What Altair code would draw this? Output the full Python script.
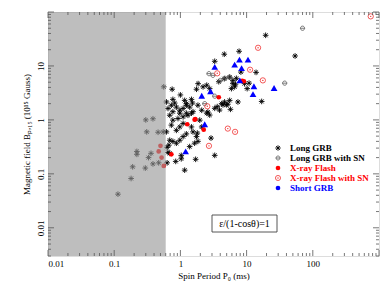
import altair as alt
import pandas as pd

W, H = 331, 244
FONT = "Liberation Serif"

# ---- data (P0 in ms, B in 1e15 G) ----
lgrb_p = [0.114, 0.18, 0.19, 0.295, 0.22, 0.22, 0.33, 0.36, 0.385, 0.47, 0.30, 0.385, 0.31, 0.46, 0.55, 0.615, 0.56, 0.615,
          0.63, 0.63, 0.67, 0.65, 0.85, 1.16, 1.03, 1.7,
          0.69, 0.77, 0.87, 0.98, 1.10, 1.23, 1.55, 1.75, 1.84, 1.64, 1.38,
          0.87, 0.98, 1.10, 0.73, 0.77, 0.92, 1.10, 1.30, 0.69, 1.47, 1.8, 1.96, 2.1, 2.9, 3.3, 0.69, 1.03,
          0.65, 0.73, 0.77, 0.87, 0.98, 1.10, 1.23, 1.38, 1.55, 1.84, 2.1, 2.5, 0.98, 1.23, 1.47, 2.6, 2.77,
          0.75, 0.77, 0.82, 1.0, 1.16, 1.23, 1.47, 1.52, 1.75, 1.85, 2.2, 2.5, 2.77,
          3.6, 4.2, 4.65, 4.95, 5.55, 5.7, 7.4, 3.3, 3.9, 4.4, 5.2,
          3.8, 4.6, 5.55, 6.2, 6.6, 5.9, 10.9, 10.2, 9.3, 6.8, 6.2, 7.0,
          3.3, 4.6, 7.7, 8.2, 13.9, 16.9, 19.4, 54]
lgrb_b = [0.042, 0.082, 0.135, 0.128, 0.26, 0.23, 0.20, 0.24, 0.153, 0.16, 1.0, 1.05, 0.60, 0.59, 0.60, 0.60, 4.1, 2.15,
          0.16, 0.31, 0.34, 0.25, 0.17, 0.117, 0.22, 0.186,
          0.42, 0.40, 0.37, 0.42, 0.49, 0.55, 0.60, 0.49, 0.40, 0.37, 0.32,
          0.64, 0.74, 0.86, 0.80, 0.99, 1.06, 1.14, 1.22, 1.22, 0.74, 0.57, 0.99, 0.74, 0.46, 0.22, 0.24, 0.19,
          1.63, 1.87, 1.42, 1.73, 1.51, 1.63, 1.87, 1.73, 1.42, 1.87, 1.51, 1.33, 1.33, 1.33, 1.33, 1.40, 1.23,
          3.7, 2.4, 2.05, 2.9, 2.3, 2.0, 2.4, 2.05, 3.7, 4.7, 4.1, 4.4, 3.8,
          1.76, 2.0, 2.15, 1.9, 2.3, 1.57, 2.15, 1.64, 1.52, 1.9, 1.95,
          5.1, 5.8, 6.2, 4.7, 4.1, 3.8, 4.8, 3.8, 4.7, 4.6, 5.4, 5.9,
          12.2, 16.5, 18.7, 7.7, 7.6, 2.2, 37, 15.3]

lgrbsn_p = [70, 37.6, 2.7, 3.1, 4.7, 5.5, 3.3, 2.33, 4.0]
lgrbsn_b = [50, 4.8, 7.2, 6.7, 5.9, 6.2, 2.75, 2.0, 5.4]

xrf_p = [0.50, 0.47, 0.52, 0.56, 0.73, 1.27, 1.64, 1.68, 2.25, 3.8, 8.6, 9.1]
xrf_b = [0.33, 0.26, 0.20, 0.14, 0.23, 0.83, 1.01, 1.03, 0.66, 2.63, 5.3, 5.2]

xrfsn_p = [750, 14.9, 17.6, 11.3, 3.6, 2.55, 5.2, 6.7, 2.7]
xrfsn_b = [83, 21.7, 5.4, 8.5, 7.3, 1.79, 0.69, 0.60, 0.33]

sgrb_p = [26, 12.9, 12.5, 7.9, 8.4, 6.6, 7.8, 10.5, 3.3, 2.85, 2.1, 2.33, 1.2]
sgrb_b = [3.9, 4.2, 3.0, 5.4, 9.1, 10.6, 13.1, 13.1, 9.6, 3.4, 2.8, 0.83, 0.26]

shade_limit = 0.6
x_labels = [0.01, 0.1, 1, 10, 100]
y_labels = [0.01, 0.1, 1, 10]
legend_labels = ["Long GRB", "Long GRB with SN", "X-ray Flash", "X-ray Flash with SN", "Short GRB"]
legend_colors = ["#000000", "#000000", "#ff0000", "#ff0000", "#0000ff"]

# ---- scales / encodings ----
xs = alt.Scale(type="log", domain=[0.01, 1000], nice=False)
ys = alt.Scale(type="log", domain=[0.003, 100], nice=False)
xaxis = alt.Axis(values=x_labels, format="~g", ticks=False, domain=False, grid=False,
                 labelFont=FONT, labelFontSize=9, labelColor="#000", labelPadding=3,
                 title="Spin Period P\u2080 (ms)", titleFont=FONT, titleFontSize=9,
                 titleFontWeight="normal", titleColor="#000", titlePadding=3)
yaxis = alt.Axis(values=y_labels, format="~g", ticks=False, domain=False, grid=False,
                 labelFont=FONT, labelFontSize=9, labelColor="#000", labelAngle=270,
                 labelAlign="center", labelBaseline="bottom", labelPadding=3,
                 title="Magnetic field B\u209a,\u2081\u2085 (10\u00b9\u2075 Gauss)", titleFont=FONT,
                 titleFontSize=9, titleFontWeight="normal", titleColor="#000", titlePadding=5)
X = alt.X("P:Q", scale=xs, axis=xaxis)
Y = alt.Y("B:Q", scale=ys, axis=yaxis)

def df(p, b):
    return pd.DataFrame({"P": p, "B": b})

AST = "M0,-1L0,1M-1,0L1,0M-0.7,-0.7L0.7,0.7M-0.7,0.7L0.7,-0.7"
OMINUS = "M1,0A1,1,0,1,1,-1,0A1,1,0,1,1,1,0M-1,0L1,0"

lgrb = alt.Chart(df(lgrb_p, lgrb_b)).mark_point(shape=AST, size=32, color="#000", strokeWidth=0.9, filled=False, opacity=1).encode(x=X, y=Y)
lgrbsn = alt.Chart(df(lgrbsn_p, lgrbsn_b)).mark_point(shape=OMINUS, size=18, color="#555", strokeWidth=0.8, filled=False, opacity=1).encode(x=X, y=Y)
xrf = alt.Chart(df(xrf_p, xrf_b)).mark_point(shape="circle", size=22, color="#ff0000", filled=True, opacity=1).encode(x=X, y=Y)
xrfsn_c = alt.Chart(df(xrfsn_p, xrfsn_b)).mark_point(shape="circle", size=28, color="#f03030", strokeWidth=0.8, filled=False, opacity=1).encode(x=X, y=Y)
xrfsn_d = alt.Chart(df(xrfsn_p, xrfsn_b)).mark_point(shape="circle", size=2, color="#f03030", filled=True, opacity=1).encode(x=X, y=Y)
sgrb = alt.Chart(df(sgrb_p, sgrb_b)).mark_point(shape="triangle-up", size=45, color="#0000ff", filled=True, opacity=1).encode(x=X, y=Y)

shade = alt.Chart(pd.DataFrame({"P": [0.01], "P2": [shade_limit]})).mark_rect(color="#989898", opacity=0.63).encode(
    x=X, x2="P2:Q", y=alt.value(0), y2=alt.value(H))

# ---- inward ticks on all four sides ----
xmaj = [10.0 ** e for e in range(-2, 4)]
xmin = [k * 10.0 ** e for e in range(-2, 3) for k in range(2, 10)]
ymaj = [10.0 ** e for e in range(-2, 3)]
ymin = [k * 10.0 ** e for e in range(-3, 2) for k in range(2, 10) if k * 10.0 ** e >= 0.003]
TC = "#555"
ticks = []
for vals, ln in [(xmaj, 6), (xmin, 3)]:
    d = pd.DataFrame({"P": vals})
    ticks.append(alt.Chart(d).mark_rule(color=TC, strokeWidth=0.8).encode(x=X, y=alt.value(H), y2=alt.value(H - ln)))
    ticks.append(alt.Chart(d).mark_rule(color=TC, strokeWidth=0.8).encode(x=X, y=alt.value(0), y2=alt.value(ln)))
for vals, ln in [(ymaj, 6), (ymin, 3)]:
    d = pd.DataFrame({"B": vals})
    ticks.append(alt.Chart(d).mark_rule(color=TC, strokeWidth=0.8).encode(y=Y, x=alt.value(0), x2=alt.value(ln)))
    ticks.append(alt.Chart(d).mark_rule(color=TC, strokeWidth=0.8).encode(y=Y, x=alt.value(W), x2=alt.value(W - ln)))

# ---- legend ----
LX, LT, LY0, LDY = 230, 242, 136, 10
leg = []
one = pd.DataFrame({"a": [0]})
sym_specs = [
    dict(shape=AST, size=30, color="#000", filled=False, strokeWidth=0.9),
    dict(shape=OMINUS, size=16, color="#555", filled=False, strokeWidth=0.8),
    dict(shape="circle", size=22, color="#ff0000", filled=True),
    dict(shape="circle", size=26, color="#f03030", filled=False, strokeWidth=0.8),
    dict(shape="circle", size=22, color="#0000ff", filled=True),
]
for i, (lab, col, sp) in enumerate(zip(legend_labels, legend_colors, sym_specs)):
    yy = LY0 + i * LDY
    leg.append(alt.Chart(one).mark_point(opacity=1, **sp).encode(x=alt.value(LX), y=alt.value(yy)))
    leg.append(alt.Chart(one).mark_text(text=lab, font=FONT, fontSize=9, fontWeight="bold", color=col,
                                        align="left", baseline="middle").encode(x=alt.value(LT), y=alt.value(yy)))
leg.append(alt.Chart(one).mark_point(shape="circle", size=2, color="#f03030", filled=True, opacity=1).encode(
    x=alt.value(LX), y=alt.value(LY0 + 3 * LDY)))

# ---- annotation box ----
box = alt.Chart(one).mark_rect(fill="white", stroke="#444", strokeWidth=0.9).encode(
    x=alt.value(164), x2=alt.value(229), y=alt.value(203), y2=alt.value(220))
box_text = alt.Chart(one).mark_text(text="\u03b5/(1-cos\u03b8)=1", font=FONT, fontSize=10, color="#000",
                                     align="center", baseline="middle").encode(x=alt.value(196.5), y=alt.value(212))

chart = alt.layer(lgrb, lgrbsn, xrf, xrfsn_c, xrfsn_d, sgrb, shade, *ticks, *leg, box, box_text).properties(
    width=W, height=H,
    autosize=alt.AutoSizeParams(type="none"),
    padding={"left": 40, "top": 4, "right": 5, "bottom": 30},
).configure_view(stroke="#555", strokeWidth=1).configure(background="white")

chart.save("out.html", embed_options={"renderer": "svg", "actions": False})
